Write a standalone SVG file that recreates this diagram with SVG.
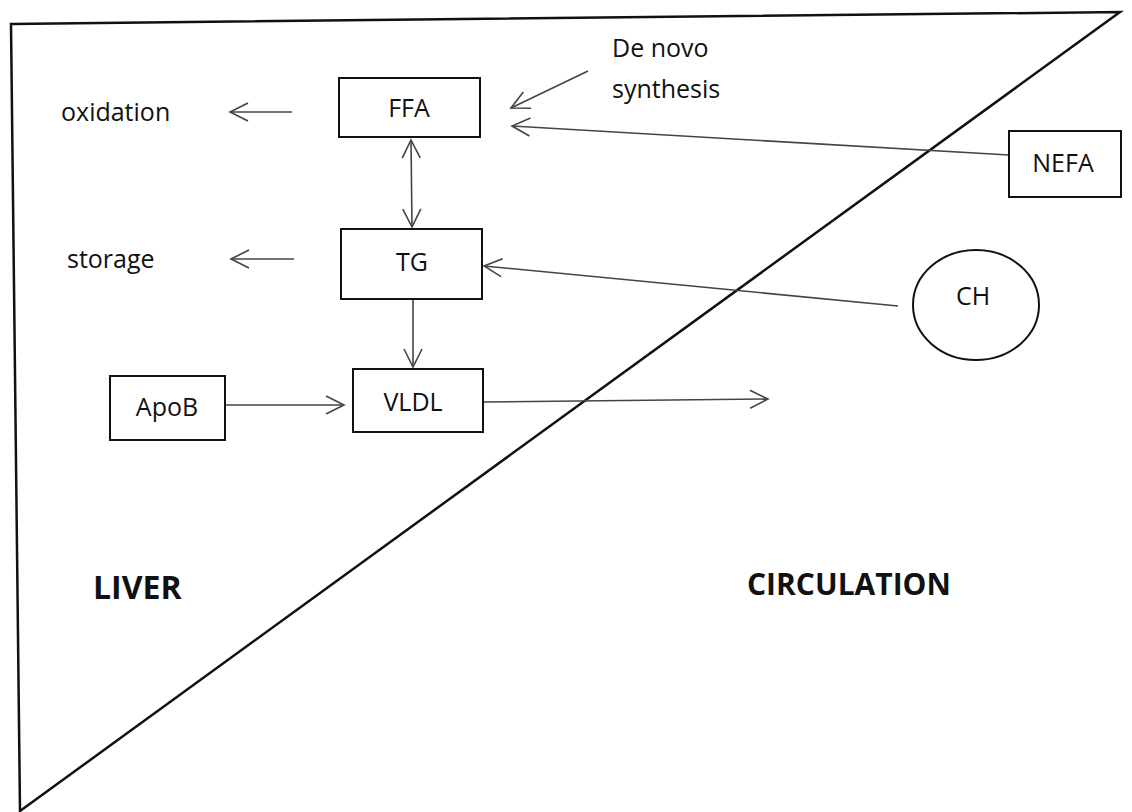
<svg xmlns="http://www.w3.org/2000/svg" width="1132" height="812" viewBox="0 0 1132 812">
<style>
.bg{fill:#ffffff}
.frame{fill:none;stroke:#111;stroke-width:2.5;stroke-linejoin:miter}
.box{fill:#fff;stroke:#111;stroke-width:2}
.lbl{font-family:"Open Sans","Liberation Sans",sans-serif;font-size:25px;fill:#111}
.big{font-family:"Open Sans","Liberation Sans",sans-serif;font-size:30px;font-weight:bold;fill:#111}
.con{fill:none;stroke:#444;stroke-width:1.6}
</style>
<defs>
<marker id="ah" viewBox="-20 -11 22 22" refX="0" refY="0" markerWidth="22" markerHeight="22" markerUnits="userSpaceOnUse" orient="auto-start-reverse">
<path d="M -18 -9 L 0 0 L -18 9" fill="none" stroke="#444" stroke-width="1.6"/>
</marker>
</defs>
<rect class="bg" x="0" y="0" width="1132" height="812"/>
<g id="regions">
<path class="frame" d="M 11 24 L 1120 12 L 20 811 Z"/>
<text class="big" x="93" y="599" style="font-size:32px">LIVER</text>
<text class="big" x="747" y="595">CIRCULATION</text>
</g>
<g id="connectors">
<line class="con" x1="292" y1="112" x2="230" y2="112" marker-end="url(#ah)"/>
<line class="con" x1="294" y1="259" x2="231" y2="259" marker-end="url(#ah)"/>
<line class="con" x1="411" y1="140" x2="412" y2="227" marker-start="url(#ah)" marker-end="url(#ah)"/>
<line class="con" x1="413" y1="299" x2="413" y2="367" marker-end="url(#ah)"/>
<line class="con" x1="225" y1="405" x2="344" y2="405" marker-end="url(#ah)"/>
<line class="con" x1="483" y1="402" x2="768" y2="399" marker-end="url(#ah)"/>
<line class="con" x1="588" y1="71" x2="511" y2="108" marker-end="url(#ah)"/>
<line class="con" x1="1009" y1="155" x2="512" y2="126" marker-end="url(#ah)"/>
<line class="con" x1="898" y1="306" x2="484" y2="266" marker-end="url(#ah)"/>
</g>
<g id="oxidation"><text class="lbl" x="61" y="121">oxidation</text></g>
<g id="storage"><text class="lbl" x="67" y="268">storage</text></g>
<g id="denovo"><text class="lbl" x="612" y="57">De novo</text><text class="lbl" x="612" y="98">synthesis</text></g>
<g id="ffa"><rect class="box" x="339" y="78" width="141" height="59"/><text class="lbl" x="409" y="117" text-anchor="middle">FFA</text></g>
<g id="tg"><rect class="box" x="341" y="229" width="141" height="70"/><text class="lbl" x="412" y="271" text-anchor="middle">TG</text></g>
<g id="vldl"><rect class="box" x="353" y="369" width="130" height="63"/><text class="lbl" x="413" y="411" text-anchor="middle">VLDL</text></g>
<g id="apob"><rect class="box" x="110" y="376" width="115" height="64"/><text class="lbl" x="167" y="416" text-anchor="middle">ApoB</text></g>
<g id="nefa"><rect class="box" x="1009" y="131" width="112" height="66"/><text class="lbl" x="1063" y="172" text-anchor="middle">NEFA</text></g>
<g id="ch"><ellipse class="box" cx="976" cy="305" rx="63" ry="55"/><text class="lbl" x="973" y="305" text-anchor="middle">CH</text></g>
</svg>
